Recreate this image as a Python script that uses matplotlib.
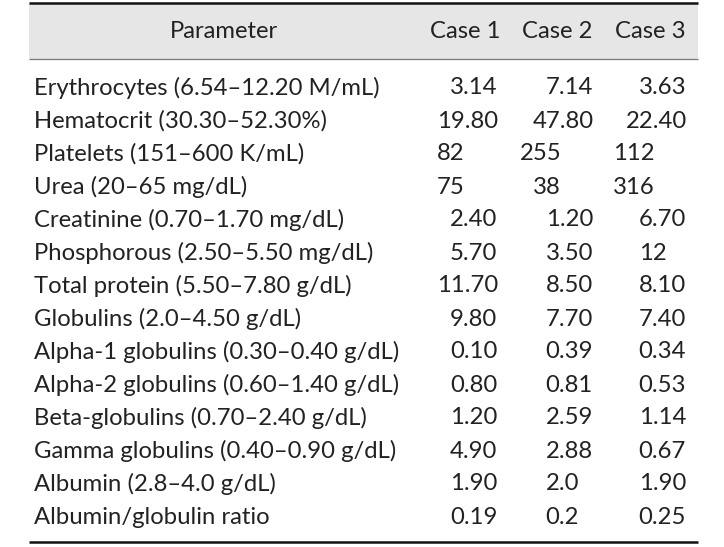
import matplotlib.pyplot as plt

plt.rcParams['font.family'] = ['Lato', 'DejaVu Sans']

# Table content
parameters = [
    "Erythrocytes (6.54–12.20 M/mL)",
    "Hematocrit (30.30–52.30%)",
    "Platelets (151–600 K/mL)",
    "Urea (20–65 mg/dL)",
    "Creatinine (0.70–1.70 mg/dL)",
    "Phosphorous (2.50–5.50 mg/dL)",
    "Total protein (5.50–7.80 g/dL)",
    "Globulins (2.0–4.50 g/dL)",
    "Alpha-1 globulins (0.30–0.40 g/dL)",
    "Alpha-2 globulins (0.60–1.40 g/dL)",
    "Beta-globulins (0.70–2.40 g/dL)",
    "Gamma globulins (0.40–0.90 g/dL)",
    "Albumin (2.8–4.0 g/dL)",
    "Albumin/globulin ratio",
]
case_labels = ["Case 1", "Case 2", "Case 3"]
case1 = ["3.14", "19.80", "82", "75", "2.40", "5.70", "11.70", "9.80",
         "0.10", "0.80", "1.20", "4.90", "1.90", "0.19"]
case2 = ["7.14", "47.80", "255", "38", "1.20", "3.50", "8.50", "7.70",
         "0.39", "0.81", "2.59", "2.88", "2.0", "0.2"]
case3 = ["3.63", "22.40", "112", "316", "6.70", "12", "8.10", "7.40",
         "0.34", "0.53", "1.14", "0.67", "1.90", "0.25"]

# Layout: leading indent of each cell, in digit widths (as typeset)
indent1 = [1, 0, 0, 0, 1, 1, 0, 1, 1, 1, 1, 1, 1, 1]
indent2 = [2, 1, 0, 1, 2, 2, 2, 2, 2, 2, 2, 2, 2, 2]
indent3 = [2, 1, 0, 0, 2, 2, 2, 2, 2, 2, 2, 2, 2, 2]

W, H = 724, 547
fig = plt.figure(figsize=(W / 100, H / 100), dpi=100)
ax = fig.add_axes([0, 0, 1, 1])
ax.set_xlim(0, W)
ax.set_ylim(H, 0)
ax.axis('off')

left, right = 29, 698
fs = 17.2
digit_w = 12.8

# header band and rules
ax.fill_between([left, right], 3, 59, color='#e6e6e6', lw=0)
ax.plot([left, right], [3, 3], color='#111111', lw=1.8, solid_capstyle='butt')
ax.plot([left, right], [59, 59], color='#777777', lw=0.9, solid_capstyle='butt')
ax.plot([left, right], [542, 542], color='#111111', lw=1.8, solid_capstyle='butt')

ax.text(224, 32, "Parameter", ha='center', va='center', fontsize=fs, color='#222222')
for x, lab in zip([465, 557, 650], case_labels):
    ax.text(x, 32, lab, ha='center', va='center', fontsize=fs, color='#222222')

col_x = [437, 520, 613]
for i, name in enumerate(parameters):
    y = 88 + 33 * i
    ax.text(34, y, name, ha='left', va='center', fontsize=fs, color='#222222')
    for base, vals, ind in zip(col_x, [case1, case2, case3], [indent1, indent2, indent3]):
        ax.text(base + ind[i] * digit_w, y, vals[i], ha='left', va='center',
                fontsize=fs, color='#222222')

fig.savefig("out.png", dpi=100)
